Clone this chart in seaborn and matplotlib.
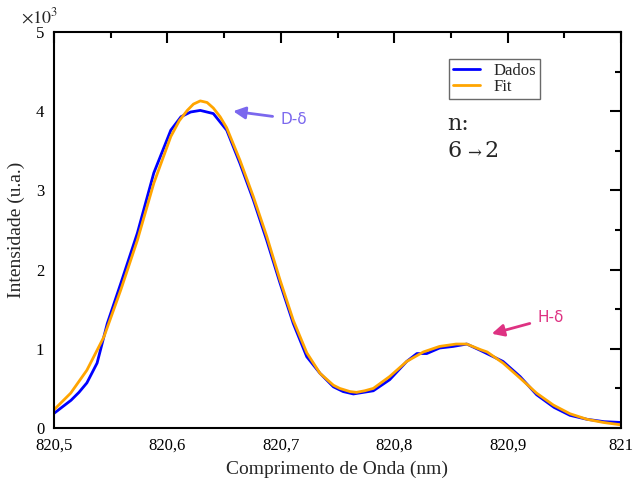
import matplotlib
matplotlib.use("Agg")
import matplotlib.pyplot as plt
import seaborn as sns
import pandas as pd
from matplotlib.ticker import MultipleLocator, FuncFormatter

# Data (intensity in units of 10^3)
dados_x = [820.500, 820.515, 820.522, 820.529, 820.538, 820.547, 820.559, 820.5735, 820.588,
           820.5955, 820.603, 820.612, 820.6205, 820.629, 820.6405, 820.6523, 820.664,
           820.6758, 820.6876, 820.6993, 820.711, 820.7229, 820.7346, 820.7464, 820.755,
           820.764, 820.7816, 820.796, 820.811, 820.820, 820.8287, 820.840, 820.852,
           820.864, 820.876, 820.896, 820.911, 820.9256, 820.941, 820.955, 820.970,
           820.985, 821.000]
dados_y = [0.185, 0.35, 0.45, 0.57, 0.82, 1.32, 1.83, 2.46, 3.22,
           3.49, 3.76, 3.93, 3.99, 4.01, 3.97, 3.76, 3.34,
           2.88, 2.37, 1.83, 1.32, 0.90, 0.69, 0.52, 0.46,
           0.43, 0.47, 0.61, 0.84, 0.94, 0.94, 1.01, 1.03,
           1.06, 0.98, 0.84, 0.65, 0.42, 0.26, 0.16, 0.11,
           0.08, 0.07]

fit_x = [820.500, 820.5147, 820.529, 820.544, 820.5588, 820.5735, 820.588, 820.603,
         820.6105, 820.6175, 820.623, 820.629, 820.635, 820.6405, 820.6465, 820.6523,
         820.664, 820.6758, 820.6876, 820.6993, 820.711, 820.7229, 820.7346, 820.7464,
         820.752, 820.761, 820.7667, 820.774, 820.7816, 820.796, 820.811, 820.8257,
         820.840, 820.8546, 820.864, 820.876, 820.882, 820.896, 820.911, 820.9256,
         820.9403, 820.955, 820.970, 820.9844, 821.000]
fit_y = [0.23, 0.44, 0.73, 1.15, 1.74, 2.37, 3.09, 3.68,
         3.88, 4.01, 4.09, 4.13, 4.11, 4.04, 3.93, 3.79,
         3.38, 2.92, 2.42, 1.87, 1.36, 0.95, 0.69, 0.54,
         0.50, 0.46, 0.45, 0.47, 0.50, 0.65, 0.84, 0.96,
         1.03, 1.06, 1.06, 0.99, 0.96, 0.82, 0.63, 0.44,
         0.29, 0.18, 0.11, 0.07, 0.04]

series_names = ["Dados", "Fit"]
series_colors = ["#0000FF", "#FFA500"]

df = pd.concat([
    pd.DataFrame({"x": dados_x, "y": dados_y, "serie": series_names[0]}),
    pd.DataFrame({"x": fit_x, "y": fit_y, "serie": series_names[1]}),
], ignore_index=True)

sns.set_style("white")
plt.rcParams["font.family"] = ["Liberation Serif", "DejaVu Serif"]
plt.rcParams["mathtext.fontset"] = "stix"

fig = plt.figure(figsize=(6.33, 4.82), dpi=100)
ax = fig.add_axes([54/633, 1-428/482, (621-54)/633, (428-32)/482])

sns.lineplot(data=df, x="x", y="y", hue="serie", palette=dict(zip(series_names, series_colors)),
             estimator=None, sort=False, linewidth=2.0, ax=ax)

ax.set_xlim(820.5, 821.0)
ax.set_ylim(0, 5)
ax.xaxis.set_major_locator(MultipleLocator(0.1))
ax.xaxis.set_minor_locator(MultipleLocator(0.05))
ax.yaxis.set_major_locator(MultipleLocator(1))
ax.yaxis.set_minor_locator(MultipleLocator(0.5))

def xfmt(v, pos):
    s = f"{v:.1f}"
    if s.endswith(".0"):
        s = s[:-2]
    return s.replace(".", ",")
ax.xaxis.set_major_formatter(FuncFormatter(xfmt))
ax.yaxis.set_major_formatter(FuncFormatter(lambda v, p: f"{v:.0f}"))

for sp in ax.spines.values():
    sp.set_linewidth(1.5)
    sp.set_color("black")
ax.tick_params(which="both", direction="in", top=True, right=True, colors="black",
               labelsize=12, width=1.5)
ax.tick_params(which="major", length=8)
ax.tick_params(axis="x", which="major", pad=7)
ax.tick_params(axis="y", which="major", pad=7)
ax.tick_params(which="minor", length=4.5)

ax.set_xlabel("Comprimento de Onda (nm)", fontsize=14, labelpad=5)
ax.set_ylabel("Intensidade (u.a.)", fontsize=14, labelpad=8)

ax.text(-0.058, 1.012, r"$\times10^3$", transform=ax.transAxes, fontsize=13, ha="left", va="bottom")

handles, labels = ax.get_legend_handles_labels()
leg = ax.legend(handles, labels, loc="upper left", bbox_to_anchor=(0.697, 0.932),
                borderaxespad=0, fontsize=12, frameon=True, fancybox=False,
                handlelength=1.6, handletextpad=0.8, borderpad=0.25, labelspacing=0.0)
leg.get_frame().set_edgecolor("#444444")
leg.get_frame().set_linewidth(1.0)

ax.text(820.8466, 3.84, "n:", fontsize=16, ha="left", va="center", family="DejaVu Serif")
ax.text(820.8466, 3.50, "6", fontsize=16, ha="left", va="center", family="DejaVu Serif")
ax.text(820.8704, 3.47, "→", fontsize=12, ha="center", va="center", family="DejaVu Serif")
ax.text(820.8792, 3.50, "2", fontsize=16, ha="left", va="center", family="DejaVu Serif")

ax.annotate("D-δ", xy=(820.658, 4.00), xytext=(820.6993, 3.90), fontsize=11,
            color="#7B68EE", family="DejaVu Sans", va="center", ha="left",
            arrowprops=dict(arrowstyle="-|>", color="#7B68EE", lw=2.0,
                            mutation_scale=18, shrinkA=3, shrinkB=0))
ax.annotate("H-δ", xy=(820.886, 1.19), xytext=(820.926, 1.39), fontsize=11,
            color="#DE3282", family="DejaVu Sans", va="center", ha="left",
            arrowprops=dict(arrowstyle="-|>", color="#DE3282", lw=2.0,
                            mutation_scale=18, shrinkA=3, shrinkB=0))

fig.savefig("out.png", dpi=100)
